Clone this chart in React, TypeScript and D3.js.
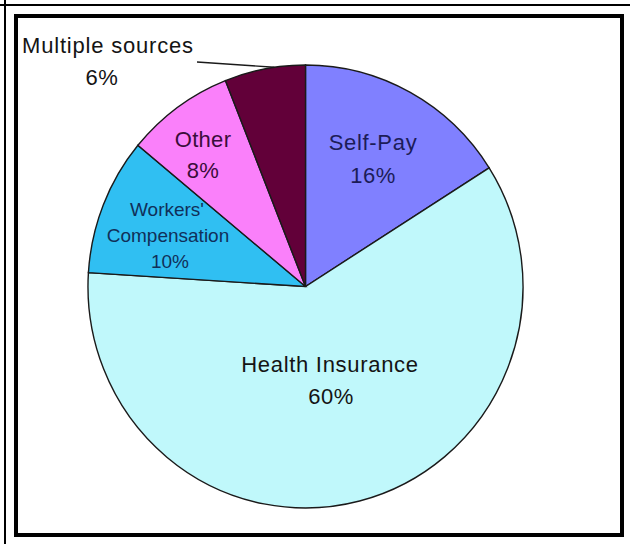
import React from "react";
import * as d3 from "d3";

const categories = ["Self-Pay", "Health Insurance", "Workers' Compensation", "Other", "Multiple sources"];
const values = [16, 60, 10, 8, 6];
const colors = ["#8080ff", "#c0f8fb", "#30bff2", "#fa80fa", "#620039"];

const W = 630;
const H = 544;
const cx = 305.5;
const cy = 286.5;
const R = 221.5;
const SX = 0.982;

export default function App() {
  const pie = d3.pie<number>().sort(null).startAngle(0).endAngle(2 * Math.PI);
  const arcs = pie(values);
  const arc = d3.arc<d3.PieArcDatum<number>>().innerRadius(0).outerRadius(R);
  const pct = (i: number) => `${values[i]}%`;

  const ms = arcs[4];
  const ang = ms.startAngle + (ms.endAngle - ms.startAngle) * 0.62;
  const lx = Math.sin(ang) * R * SX;
  const ly = -Math.cos(ang) * R;

  const font = "'Liberation Sans', Arial, sans-serif";

  return (
    <svg width={W} height={H} style={{ position: "absolute", left: 0, top: 0, background: "#fff" }}>
      <rect x={0} y={0} width={W} height={H} fill="#fff" />
      <line x1={0} y1={5} x2={W} y2={5} stroke="#000" strokeWidth={2} />
      <line x1={5} y1={0} x2={5} y2={H} stroke="#000" strokeWidth={2} />
      <rect x={16} y={16} width={606} height={519} fill="#fff" stroke="#000" strokeWidth={4} />
      <g transform={`translate(${cx},${cy}) scale(${SX},1)`}>
        {arcs.map((a, i) => (
          <path
            key={categories[i]}
            d={arc(a) || ""}
            fill={colors[i]}
            stroke="#1a1a1a"
            strokeWidth={1.4}
            vectorEffect="non-scaling-stroke"
          />
        ))}
      </g>
      <line x1={197} y1={62} x2={cx + lx} y2={cy + ly} stroke="#1a1a1a" strokeWidth={1.4} />
      <g fontFamily={font} fill="#141414" textAnchor="middle">
        <text x={108} y={53} fontSize={22} letterSpacing={0.8}>{categories[4]}</text>
        <text x={102} y={85} fontSize={22} letterSpacing={0.5}>{pct(4)}</text>

        <text x={373} y={150} fontSize={22} letterSpacing={0.7} fill="#1c1c58">{categories[0]}</text>
        <text x={373} y={183} fontSize={22} letterSpacing={0.5} fill="#1c1c58">{pct(0)}</text>

        <text x={203} y={147} fontSize={22} letterSpacing={0.3} fill="#3a0d3a">{categories[3]}</text>
        <text x={203} y={178} fontSize={22} letterSpacing={0.3} fill="#3a0d3a">{pct(3)}</text>

        <text x={167} y={216} fontSize={19} fill="#10305a">Workers'</text>
        <text x={168} y={242} fontSize={19} fill="#10305a">Compensation</text>
        <text x={170} y={268} fontSize={19} fill="#10305a">{pct(2)}</text>

        <text x={330} y={372} fontSize={22} letterSpacing={0.7}>{categories[1]}</text>
        <text x={331} y={404} fontSize={22} letterSpacing={0.5}>{pct(1)}</text>
      </g>
    </svg>
  );
}
